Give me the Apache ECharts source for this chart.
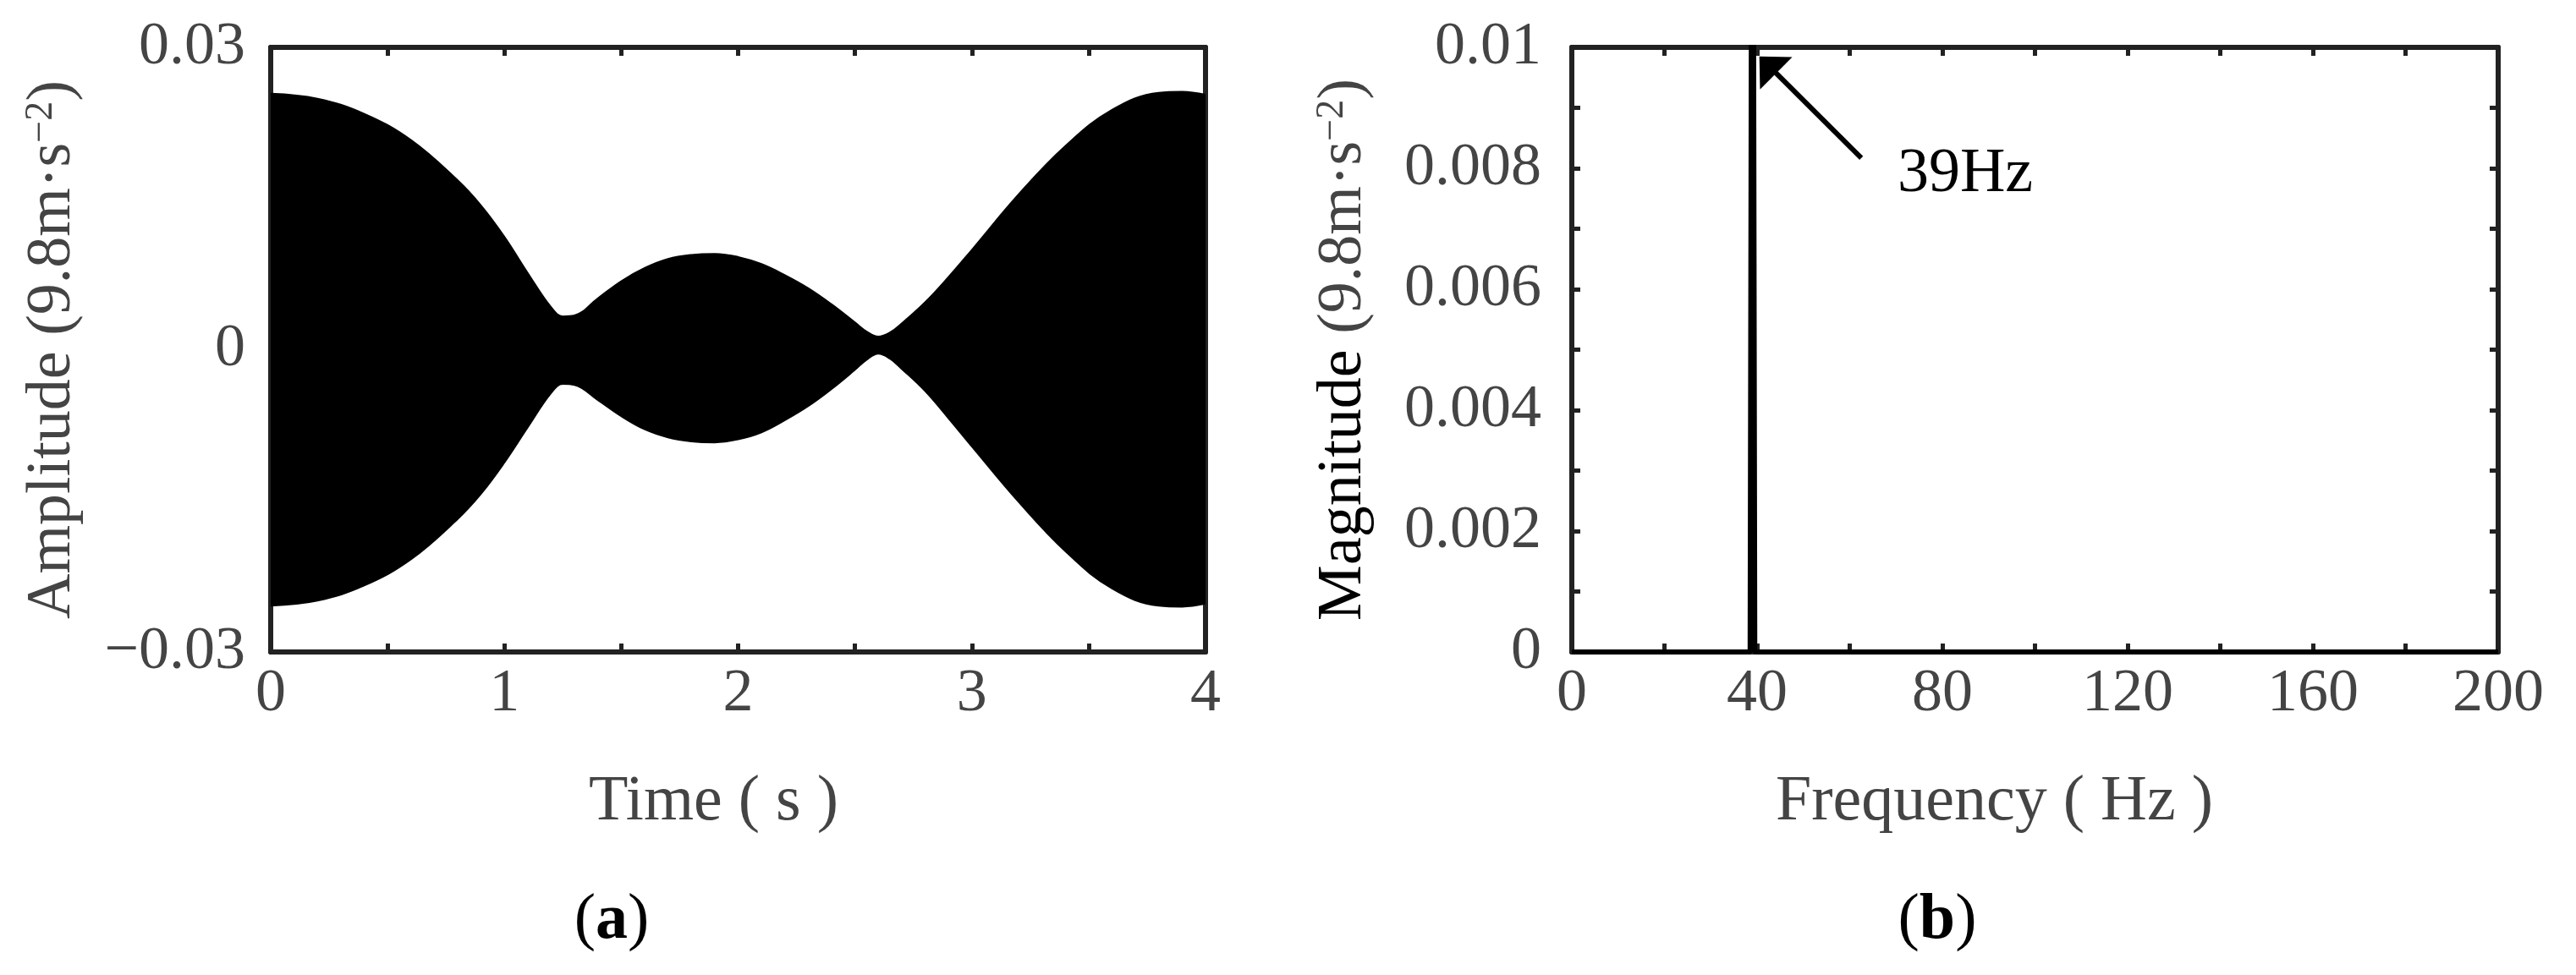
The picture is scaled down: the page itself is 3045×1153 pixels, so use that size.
<!DOCTYPE html>
<html>
<head>
<meta charset="utf-8">
<script src="https://cdn.jsdelivr.net/npm/echarts@6/dist/echarts.min.js"></script>
<style>
  html, body { margin: 0; padding: 0; background: #fff; }
  #chart { width: 3045px; height: 1153px; }
</style>
</head>
<body>
<div id="chart"></div>
<script>
// (a) time signal, drawn as its upper and lower envelope
const timeS = [0, 0.2, 0.4, 0.6, 0.8, 0.9, 1.0, 1.1, 1.2, 1.25, 1.3, 1.4, 1.5, 1.6, 1.7, 1.8, 1.9, 2.0,
  2.1, 2.2, 2.3, 2.4, 2.5, 2.55, 2.6, 2.65, 2.7, 2.8, 2.9, 3.0, 3.2, 3.4, 3.6, 3.8, 3.9, 4.0]
const upperEnv = [0.0254, 0.0249, 0.0234, 0.0208, 0.0168, 0.0143, 0.0112, 0.0076, 0.0042, 0.0033, 0.0034,
  0.0051, 0.0068, 0.0081, 0.0090, 0.0094, 0.0095, 0.0092, 0.0085, 0.0074, 0.0061, 0.0045, 0.0027, 0.0018,
  0.0013, 0.0017, 0.0026, 0.0047, 0.0072, 0.0099, 0.0154, 0.0202, 0.0238, 0.0255, 0.0256, 0.0253]
const lowerEnv = [-0.0254, -0.0249, -0.0234, -0.0208, -0.0168, -0.0143, -0.0112, -0.0077, -0.0043, -0.0034,
  -0.0035, -0.0050, -0.0066, -0.0079, -0.0087, -0.0091, -0.0092, -0.0089, -0.0082, -0.0070, -0.0056, -0.0039,
  -0.0020, -0.0010, -0.0004, -0.0009, -0.0019, -0.0041, -0.0068, -0.0096, -0.0151, -0.0200, -0.0237, -0.0254,
  -0.0255, -0.0252]

// (b) spectrum
const freqHz = [0, 38.5, 38.75, 39, 39.25, 39.5, 200]
const magnitude = [0, 0, 0.01, 0.02, 0.01, 0, 0]

// arrow + label for the peak (data coords)
const arrowFreq = [62.5, 42.3]
const arrowMag = [0.00817, 0.00971]
const peakText = '39Hz'
const peakTextFreq = 70.3
const peakTextMag = 0.00789

const FONT = "'Liberation Serif', 'Times New Roman', serif"
const GRAY = '#444'
const AXIS = '#222'

const chart = echarts.init(document.getElementById('chart'))

const upperData = timeS.map((t, i) => [t, upperEnv[i]])
const lowerData = timeS.map((t, i) => [t, lowerEnv[i]])
const specData = freqHz.map((f, i) => [f, magnitude[i]])

function frameAxis(extra) {
  return Object.assign({
    axisLine: { show: true, onZero: false, lineStyle: { color: AXIS, width: 6 } },
    axisTick: { show: true, inside: true, length: 10, lineStyle: { color: AXIS, width: 5 } },
    splitLine: { show: false },
    axisLabel: { show: false }
  }, extra)
}

const labelStyle = { show: true, color: GRAY, fontFamily: FONT, fontSize: 72 }
const minor = { show: true, splitNumber: 2, length: 10, lineStyle: { color: AXIS, width: 5 } }
const supRich = {
  t: { color: GRAY, fontFamily: FONT, fontSize: 74 },
  k: { color: '#000', fontFamily: FONT, fontSize: 74 },
  sup: { color: GRAY, fontFamily: FONT, fontSize: 46, verticalAlign: 'top', padding: [0, 0, 28, 0] }
}
const parenRich = {
  n: { fontFamily: FONT, fontSize: 76, fill: '#000' },
  b: { fontFamily: FONT, fontSize: 76, fontWeight: 'bold', fill: '#000' }
}

// envelope drawn as two filled areas meeting at zero
const envSeries = data => ({
  type: 'line', xAxisIndex: 0, yAxisIndex: 0,
  data: data, showSymbol: false, smooth: 0.4,
  lineStyle: { color: '#000', width: 2 },
  areaStyle: { color: '#000', opacity: 1, origin: 0 }
})

const lowerSeries = envSeries(lowerData)
// hide the antialias seam where the two areas meet
lowerSeries.markLine = {
  silent: true, symbol: 'none', label: { show: false },
  lineStyle: { color: '#000', width: 3, type: 'solid' },
  data: [{ yAxis: 0 }]
}

chart.setOption({
  animation: false,
  grid: [
    { left: 320, right: 1620, top: 56, bottom: 382 },
    { left: 1858, right: 92, top: 56, bottom: 382 }
  ],
  xAxis: [
    frameAxis({
      type: 'value', gridIndex: 0, position: 'bottom', min: 0, max: 4, interval: 1,
      minorTick: minor,
      axisLabel: Object.assign({}, labelStyle, { margin: 14 }),
      name: 'Time ( s )', nameLocation: 'middle', nameGap: 140,
      nameTextStyle: { color: GRAY, fontFamily: FONT, fontSize: 76, padding: [0, 58, 0, 0] }
    }),
    frameAxis({ type: 'value', gridIndex: 0, position: 'top', min: 0, max: 4, interval: 1, minorTick: minor }),
    frameAxis({
      type: 'value', gridIndex: 1, position: 'bottom', min: 0, max: 200, interval: 40,
      minorTick: minor,
      axisLabel: Object.assign({}, labelStyle, { margin: 14 }),
      name: 'Frequency ( Hz )', nameLocation: 'middle', nameGap: 140,
      nameTextStyle: { color: GRAY, fontFamily: FONT, fontSize: 76, padding: [0, 96, 0, 0] }
    }),
    frameAxis({ type: 'value', gridIndex: 1, position: 'top', min: 0, max: 200, interval: 40, minorTick: minor })
  ],
  yAxis: [
    frameAxis({
      type: 'value', gridIndex: 0, position: 'left', min: -0.03, max: 0.03, interval: 0.03,
      axisLabel: Object.assign({}, labelStyle, {
        margin: 30,
        formatter: v => (v < 0 ? '\u2212' + Math.abs(v) : String(Math.round(v * 1000) / 1000))
      }),
      name: '{t|Amplitude (9.8m·s}{sup|\u22122}{t|)}', nameLocation: 'middle', nameGap: 220,
      nameTextStyle: { rich: supRich }
    }),
    frameAxis({ type: 'value', gridIndex: 0, position: 'right', min: -0.03, max: 0.03, interval: 0.03 }),
    frameAxis({
      type: 'value', gridIndex: 1, position: 'left', min: 0, max: 0.01, interval: 0.002,
      minorTick: minor,
      axisLabel: Object.assign({}, labelStyle, { margin: 36 }),
      name: '{k|Magnitude }{t|(9.8m·s}{sup|\u22122}{t|)}', nameLocation: 'middle', nameGap: 232,
      nameTextStyle: { rich: supRich }
    }),
    frameAxis({ type: 'value', gridIndex: 1, position: 'right', min: 0, max: 0.01, interval: 0.002, minorTick: minor })
  ],
  series: [
    envSeries(upperData),
    lowerSeries,
    {
      type: 'line', xAxisIndex: 2, yAxisIndex: 2,
      data: specData, showSymbol: false,
      lineStyle: { color: '#000', width: 6 },
      markLine: {
        silent: true,
        symbol: ['none', 'triangle'],
        symbolSize: [54, 28],
        lineStyle: { color: '#000', width: 6, type: 'solid' },
        label: { show: false },
        data: [[
          { coord: [arrowFreq[0], arrowMag[0]] },
          { coord: [arrowFreq[1], arrowMag[1]] }
        ]]
      },
      markPoint: {
        silent: true,
        symbolSize: 0,
        label: {
          show: true, position: [0, 0], align: 'left', verticalAlign: 'middle',
          color: '#000', fontFamily: FONT, fontSize: 74, formatter: peakText
        },
        data: [{ coord: [peakTextFreq, peakTextMag] }]
      }
    }
  ],
  graphic: [
    {
      type: 'text',
      style: { text: '{n|(}{b|a}{n|)}', x: 723, y: 1089, align: 'center', verticalAlign: 'middle', rich: parenRich }
    },
    {
      type: 'text',
      style: { text: '{n|(}{b|b}{n|)}', x: 2290, y: 1089, align: 'center', verticalAlign: 'middle', rich: parenRich }
    }
  ]
})
</script>
</body>
</html>
